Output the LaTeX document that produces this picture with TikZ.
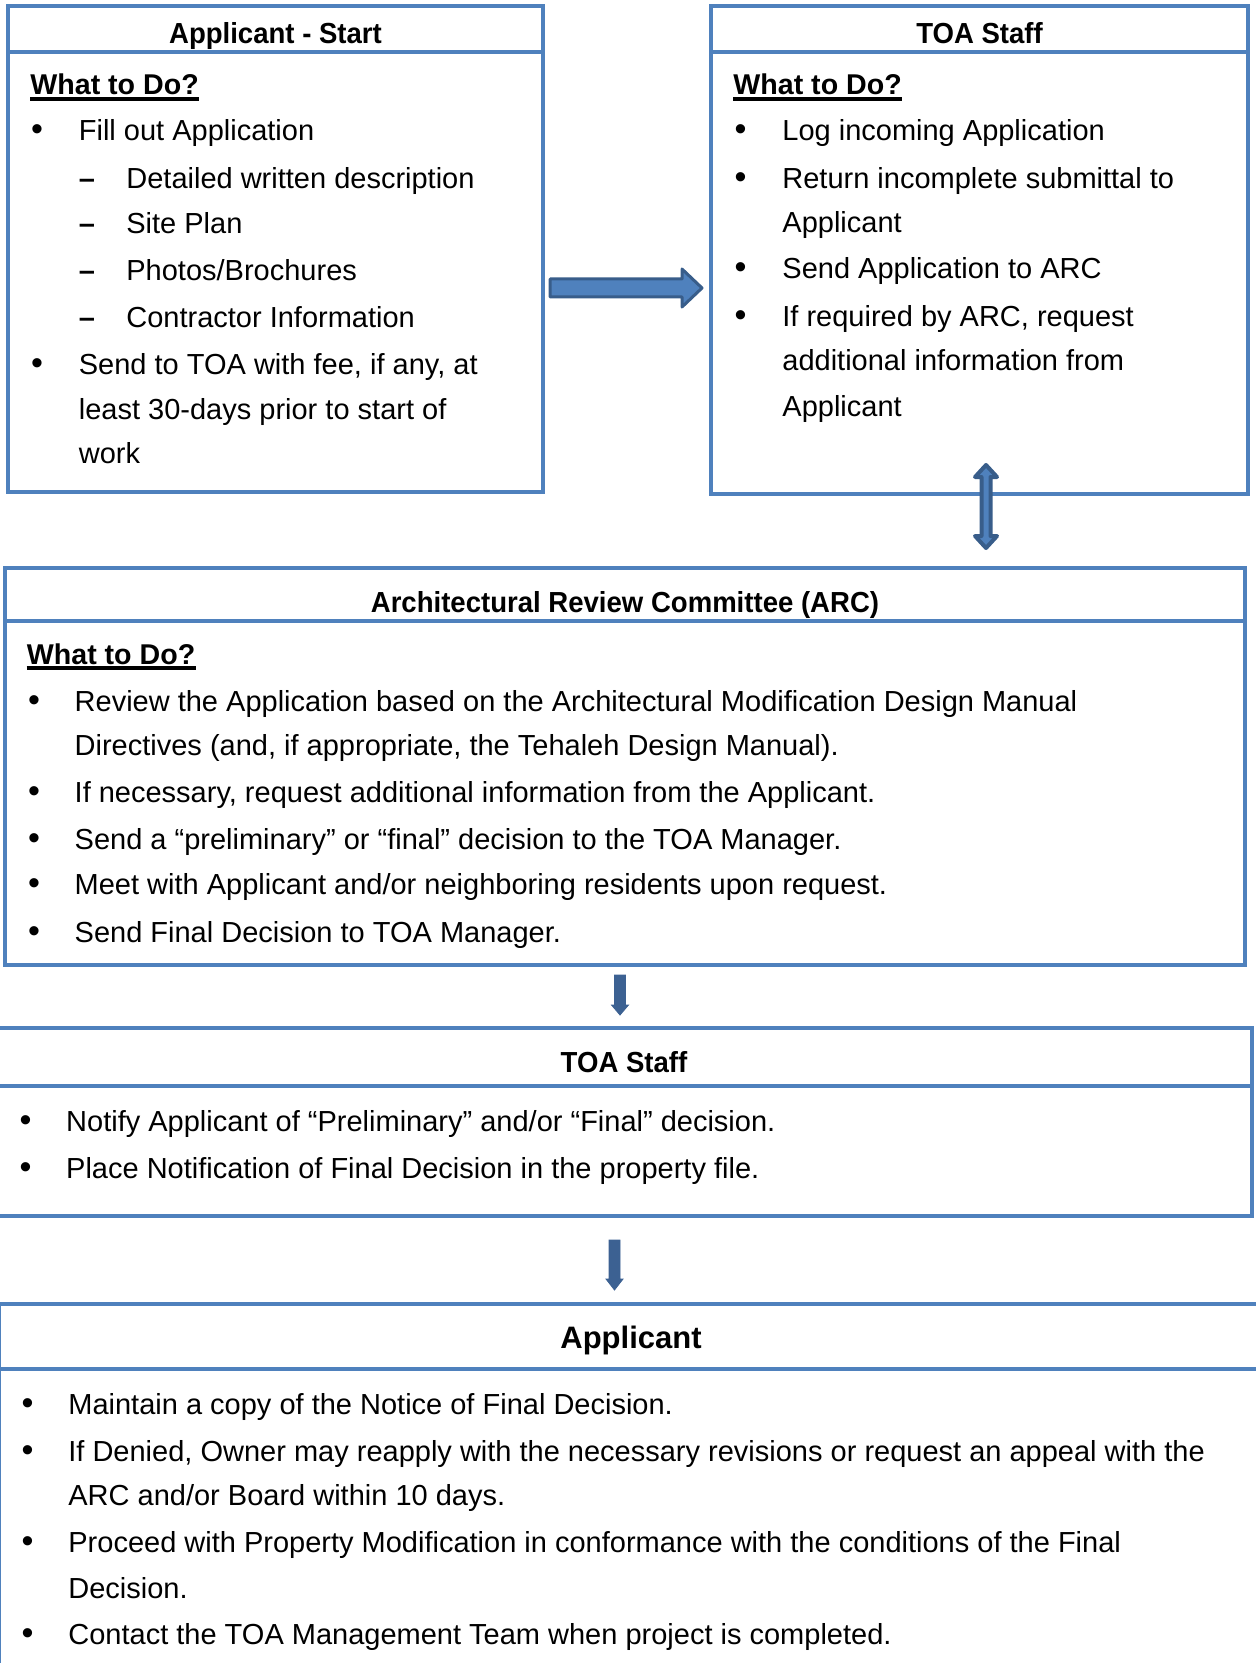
\documentclass[tikz,border=0pt]{standalone}
\usepackage{fontspec}
\setmainfont{Liberation Sans}
\newfontfamily\hdfont[FakeStretch=0.95]{Liberation Sans}
\usepackage{tikz}
\usetikzlibrary{calc}
\usetikzlibrary{fit}

\definecolor{boxblue}{RGB}{79,129,189}
\definecolor{edgeblue}{RGB}{56,93,138}
\definecolor{downblue}{RGB}{60,97,146}

\tikzset{
  box/.style={draw=boxblue, line width=2pt, inner sep=0pt, rectangle},
  rule/.style={draw=boxblue, line width=2pt},
  head/.style={anchor=base, inner sep=0pt, font=\hdfont\bfseries\fontsize{14.5}{17}\selectfont},
  what/.style={anchor=base west, inner sep=0pt, font=\bfseries\fontsize{14.3}{17}\selectfont},
  uline/.style={line width=2pt},
  txt/.style={anchor=base west, inner sep=0pt, font=\fontsize{14.5}{18}\selectfont},
  bul/.style={anchor=base, inner sep=0pt, font=\fontsize{17}{18}\selectfont},
  dsh/.style={anchor=base, inner sep=0pt, font=\bfseries\fontsize{14.5}{18}\selectfont},
  barrow/.style={fill=boxblue, draw=edgeblue, line width=1.5pt, line join=round},
  darrow/.style={fill=downblue, draw=downblue, line width=0.4pt},
}

\begin{document}
\begin{tikzpicture}[x=0.5pt,y=0.5pt,yscale=-1]
    \useasboundingbox (0,0) rectangle (1255,1663);

    %Boxes
    \node[box, fit={(8,6) (543,492)}] (apply) {};
    \draw[rule] (apply.west |- 0,52) -- (apply.east |- 0,52);
    \node[box, fit={(711,6) (1248,494)}] (toa) {};
    \draw[rule] (toa.west |- 0,52) -- (toa.east |- 0,52);
    \node[box, fit={(5,568) (1245,965)}] (arc) {};
    \draw[rule] (arc.west |- 0,621) -- (arc.east |- 0,621);
    \node[box, fit={(-3,1028) (1252,1216)}] (notify) {};
    \draw[rule] (notify.west |- 0,1086) -- (notify.east |- 0,1086);
    \node[box, fit={(-1,1304) (1264,1700)}] (done) {};
    \draw[rule] (done.west |- 0,1369) -- (done.east |- 0,1369);

    %Right Arrow
    \coordinate (ra) at ($(apply.east |- 0,288)+(5,0)$);
    \coordinate (rb) at ($(toa.west |- 0,288)+(-7,0)$);
    \draw[barrow] ($(ra)+(0,-9)$) -- ($(rb)+(-20,-9)$) -- ($(rb)+(-20,-19)$) -- (rb)
        -- ($(rb)+(-20,19)$) -- ($(rb)+(-20,9)$) -- ($(ra)+(0,9)$) -- cycle;

    %Double Arrow
    \coordinate (da) at (986,465);
    \coordinate (db) at (986,548);
    \draw[barrow, line width=2pt] (da) -- ($(da)+(11,12)$) -- ($(da)+(4.5,12)$) -- ($(db)+(4.5,-12)$)
        -- ($(db)+(11,-12)$) -- (db) -- ($(db)+(-11,-12)$) -- ($(db)+(-4.5,-12)$)
        -- ($(da)+(-4.5,12)$) -- ($(da)+(-11,12)$) -- cycle;

    %Down Arrows
    \coordinate (ua) at (620,975);
    \coordinate (ub) at (620,1015);
    \fill[darrow] ($(ua)+(-5.5,0)$) -- ($(ub)+(-5.5,-10)$) -- ($(ub)+(-8.5,-10)$) -- (ub)
        -- ($(ub)+(8.5,-10)$) -- ($(ub)+(5.5,-10)$) -- ($(ua)+(5.5,0)$) -- cycle;
    \coordinate (va) at (614.5,1240);
    \coordinate (vb) at (614.5,1290);
    \fill[darrow] ($(va)+(-5.5,0)$) -- ($(vb)+(-5.5,-11)$) -- ($(vb)+(-8.5,-11)$) -- (vb)
        -- ($(vb)+(8.5,-11)$) -- ($(vb)+(5.5,-11)$) -- ($(va)+(5.5,0)$) -- cycle;

    % Applicant - Start
    \node[head] (h1) at (275.5,44) {Applicant - Start};
    \node[what] (w1) at (30,95) {What to Do?};
    \draw[uline] ([yshift=2.2pt]w1.base west) -- ([yshift=2.2pt]w1.base east);
    \node[bul] (b11) at (37,140.4) {•};
    \node[txt] (t11) at (78.5,140.4) {Fill out Application};
    \node[dsh] (d11) at (87,188.2) {–};
    \node[txt] (t12) at (126,188.2) {Detailed written description};
    \node[dsh] (d12) at (87,233.8) {–};
    \node[txt] (t13) at (126,233.8) {Site Plan};
    \node[dsh] (d13) at (87,280.5) {–};
    \node[txt] (t14) at (126,280.5) {Photos/Brochures};
    \node[dsh] (d14) at (87,327.2) {–};
    \node[txt] (t15) at (126,327.2) {Contractor Information};
    \node[bul] (b12) at (37,374.9) {•};
    \node[txt] (t16) at (78.5,374.9) {Send to TOA with fee, if any, at};
    \node[txt] (t17) at (78.5,419.4) {least 30-days prior to start of};
    \node[txt] (t18) at (78.5,464) {work};

    % TOA Staff
    \node[head] (h2) at (979.5,44) {TOA Staff};
    \node[what] (w2) at (733,95) {What to Do?};
    \draw[uline] ([yshift=2.2pt]w2.base west) -- ([yshift=2.2pt]w2.base east);
    \node[bul] (b21) at (740.5,140.4) {•};
    \node[txt] (t21) at (782,140.4) {Log incoming Application};
    \node[bul] (b22) at (740.5,188.2) {•};
    \node[txt] (t22) at (782,188.2) {Return incomplete submittal to};
    \node[txt] (t23) at (782,232.7) {Applicant};
    \node[bul] (b23) at (740.5,278.3) {•};
    \node[txt] (t24) at (782,278.3) {Send Application to ARC};
    \node[bul] (b24) at (740.5,326.1) {•};
    \node[txt] (t25) at (782,326.1) {If required by ARC, request};
    \node[txt] (t26) at (782,370.6) {additional information from};
    \node[txt] (t27) at (782,416.3) {Applicant};

    % Architectural Review Committee
    \node[head] (h3) at (625,612.5) {Architectural Review Committee (ARC)};
    \node[what] (w3) at (26.5,664) {What to Do?};
    \draw[uline] ([yshift=2.2pt]w3.base west) -- ([yshift=2.2pt]w3.base east);
    \node[bul] (b31) at (34,711.2) {•};
    \node[txt] (t31) at (74.3,711.2) {Review the Application based on the Architectural Modification Design Manual};
    \node[txt] (t32) at (74.3,755.7) {Directives (and, if appropriate, the Tehaleh Design Manual).};
    \node[bul] (b32) at (34,802.4) {•};
    \node[txt] (t33) at (74.3,802.4) {If necessary, request additional information from the Applicant.};
    \node[bul] (b33) at (34,849.1) {•};
    \node[txt] (t34) at (74.3,849.1) {Send a “preliminary” or “final” decision to the TOA Manager.};
    \node[bul] (b34) at (34,894.7) {•};
    \node[txt] (t35) at (74.3,894.7) {Meet with Applicant and/or neighboring residents upon request.};
    \node[bul] (b35) at (34,942.5) {•};
    \node[txt] (t36) at (74.3,942.5) {Send Final Decision to TOA Manager.};

    % TOA Staff (notify)
    \node[head] (h4) at (624,1072) {TOA Staff};
    \node[bul] (b41) at (25.5,1131.3) {•};
    \node[txt] (t41) at (65.8,1131.3) {Notify Applicant of “Preliminary” and/or “Final” decision.};
    \node[bul] (b42) at (25.5,1178) {•};
    \node[txt] (t42) at (65.8,1178) {Place Notification of Final Decision in the property file.};

    % Applicant
    \node[head, font=\bfseries\fontsize{15.5}{18}\selectfont] (h5) at (631,1348) {Applicant};
    \node[bul] (b51) at (27.6,1414.6) {•};
    \node[txt] (t51) at (68,1414.6) {Maintain a copy of the Notice of Final Decision.};
    \node[bul] (b52) at (27.6,1461.2) {•};
    \node[txt] (t52) at (68,1461.2) {If Denied, Owner may reapply with the necessary revisions or request an appeal with the};
    \node[txt] (t53) at (68,1505.8) {ARC and/or Board within 10 days.};
    \node[bul] (b53) at (27.6,1552.5) {•};
    \node[txt] (t54) at (68,1552.5) {Proceed with Property Modification in conformance with the conditions of the Final};
    \node[txt] (t55) at (68,1598.1) {Decision.};
    \node[bul] (b54) at (27.6,1644.8) {•};
    \node[txt] (t56) at (68,1644.8) {Contact the TOA Management Team when project is completed.};

\end{tikzpicture}
\end{document}
